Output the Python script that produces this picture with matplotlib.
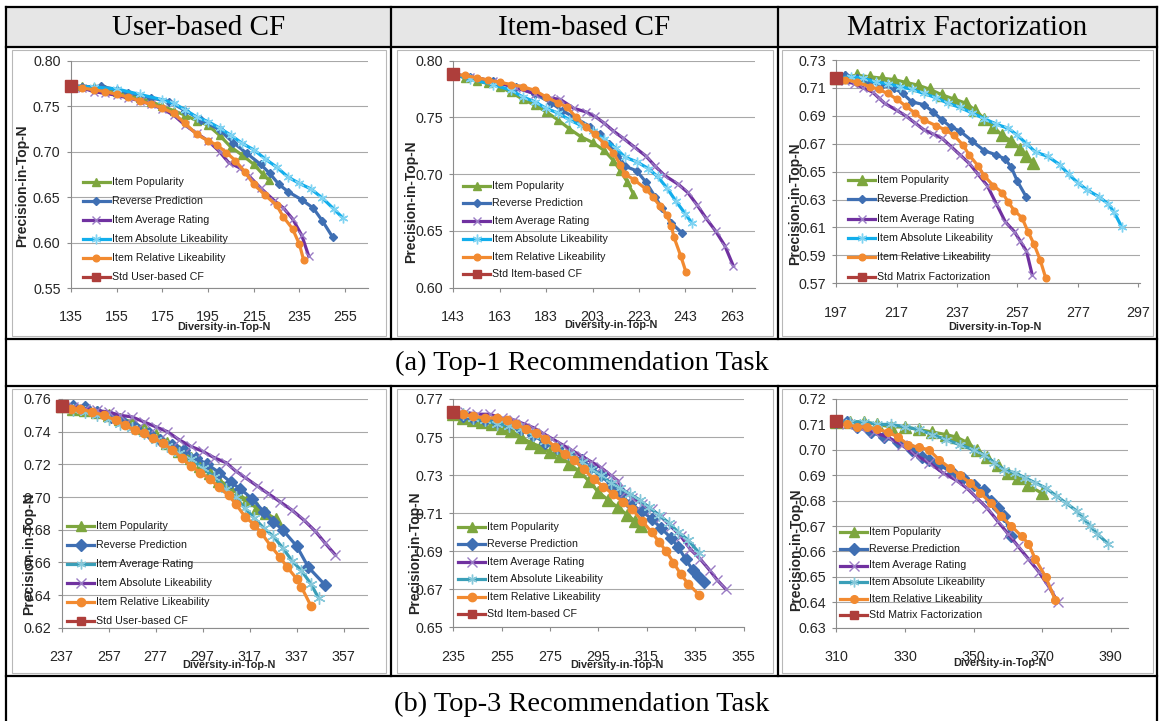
import matplotlib.pyplot as plt
from matplotlib.lines import Line2D
from matplotlib.patches import Rectangle

W, H = 1161, 721

col_titles = ['User-based CF', 'Item-based CF', 'Matrix Factorization']
row_captions = ['(a) Top-1 Recommendation Task', '(b) Top-3 Recommendation Task']
series_names = ['Item Popularity', 'Reverse Prediction', 'Item Average Rating',
                'Item Absolute Likeability', 'Item Relative Likeability']
std_names = ['Std User-based CF', 'Std Item-based CF', 'Std Matrix Factorization']

# ---- Top-1, user-based CF
ub1_pop_x = [135, 140, 145, 150, 155, 160, 165, 170, 175, 180, 185, 190, 195, 200, 205, 210, 215, 219, 221.5]
ub1_pop_y = [0.772, 0.772, 0.771, 0.769, 0.766, 0.763, 0.759, 0.755, 0.750, 0.745, 0.740, 0.734, 0.729, 0.718, 0.705, 0.696, 0.686, 0.675, 0.669]
ub1_rev_x = [135, 140, 148, 155, 160, 170, 178, 185, 192, 200, 206, 212, 218, 222, 226, 230, 236, 241, 245, 249.5]
ub1_rev_y = [0.772, 0.771, 0.772, 0.768, 0.765, 0.759, 0.755, 0.745, 0.735, 0.724, 0.710, 0.698, 0.686, 0.676, 0.664, 0.656, 0.647, 0.638, 0.624, 0.606]
ub1_avg_x = [135, 140, 145, 150, 155, 160, 165, 170, 175, 180, 185, 190, 195, 200, 204, 209, 213, 218, 224, 228, 232, 236, 239]
ub1_avg_y = [0.772, 0.770, 0.766, 0.764, 0.762, 0.759, 0.756, 0.752, 0.747, 0.740, 0.729, 0.720, 0.712, 0.700, 0.688, 0.682, 0.673, 0.660, 0.646, 0.638, 0.626, 0.608, 0.5855]
ub1_abs_x = [135, 145, 155, 165, 175, 180, 185, 190, 195, 200, 205, 210, 215, 220, 225, 230, 235, 240, 245, 250, 254]
ub1_abs_y = [0.772, 0.771, 0.769, 0.763, 0.757, 0.753, 0.746, 0.738, 0.733, 0.726, 0.718, 0.709, 0.702, 0.692, 0.683, 0.672, 0.665, 0.659, 0.649, 0.637, 0.627]
ub1_rel_x = [135, 140, 145, 150, 155, 160, 165, 170, 175, 180, 185, 190, 195, 199, 203, 207, 211, 215, 220, 225, 228, 232, 235, 236.8]
ub1_rel_y = [0.772, 0.770, 0.768, 0.766, 0.763, 0.760, 0.756, 0.752, 0.748, 0.742, 0.731, 0.719, 0.712, 0.707, 0.699, 0.690, 0.678, 0.664, 0.652, 0.641, 0.628, 0.615, 0.598, 0.581]
ub1_std = (135, 0.772)

# ---- Top-1, item-based CF
ib1_pop_x = [143, 148, 153, 158, 163, 168, 173, 178, 183, 188, 193, 198, 203, 208, 212, 215, 218, 220.6]
ib1_pop_y = [0.788, 0.785, 0.782, 0.780, 0.777, 0.772, 0.766, 0.761, 0.755, 0.748, 0.740, 0.733, 0.728, 0.721, 0.712, 0.703, 0.693, 0.6825]
ib1_rev_x = [143, 150, 160, 170, 178, 185, 190, 196, 202, 206, 210, 214, 217, 222, 226, 230, 233, 237, 241.4]
ib1_rev_y = [0.788, 0.786, 0.782, 0.777, 0.771, 0.763, 0.756, 0.749, 0.742, 0.735, 0.727, 0.717, 0.707, 0.703, 0.693, 0.680, 0.670, 0.657, 0.6485]
ib1_avg_x = [143, 150, 160, 170, 178, 185, 189, 195, 200, 204, 208, 212, 216, 221, 226, 230, 234, 240, 244, 248, 252, 256, 260, 263.7]
ib1_avg_y = [0.788, 0.786, 0.782, 0.776, 0.771, 0.767, 0.766, 0.758, 0.755, 0.751, 0.745, 0.738, 0.732, 0.724, 0.716, 0.707, 0.699, 0.691, 0.684, 0.673, 0.661, 0.650, 0.637, 0.619]
ib1_abs_x = [143, 150, 160, 168, 173, 178, 183, 188, 193, 198, 203, 208, 213, 217, 222, 227, 231, 235, 239, 243, 245.8]
ib1_abs_y = [0.788, 0.784, 0.779, 0.774, 0.768, 0.764, 0.758, 0.754, 0.748, 0.743, 0.738, 0.731, 0.723, 0.715, 0.711, 0.705, 0.698, 0.688, 0.676, 0.665, 0.657]
ib1_rel_x = [143, 148, 153, 158, 163, 168, 173, 178, 183, 188, 192, 196, 200, 204, 208, 212, 215, 217, 221, 226, 229, 232, 235, 237, 238, 241, 243.3]
ib1_rel_y = [0.788, 0.787, 0.785, 0.783, 0.781, 0.779, 0.777, 0.774, 0.768, 0.763, 0.759, 0.750, 0.742, 0.735, 0.727, 0.719, 0.708, 0.700, 0.695, 0.687, 0.680, 0.672, 0.664, 0.654, 0.645, 0.628, 0.6135]
ib1_std = (143, 0.788)

# ---- Top-1, matrix factorization
mf1_pop_x = [197, 200, 204, 208, 212, 216, 220, 224, 228, 232, 236, 240, 243, 246, 249, 252, 255, 258, 260, 262.2]
mf1_pop_y = [0.717, 0.718, 0.719, 0.718, 0.717, 0.716, 0.714, 0.712, 0.709, 0.705, 0.702, 0.699, 0.694, 0.688, 0.682, 0.676, 0.672, 0.666, 0.661, 0.6565]
mf1_rev_x = [197, 200, 204, 208, 212, 216, 219, 222, 226, 229, 232, 235, 238, 242, 246, 250, 253, 255, 257, 260]
mf1_rev_y = [0.717, 0.719, 0.717, 0.714, 0.712, 0.710, 0.706, 0.700, 0.698, 0.693, 0.687, 0.682, 0.679, 0.672, 0.665, 0.662, 0.659, 0.653, 0.643, 0.6316]
mf1_avg_x = [197, 200, 203, 206, 209, 211, 213, 217, 220, 223, 226, 229, 232, 235, 238, 241, 244, 247, 250, 253, 256, 258, 260, 261.9]
mf1_avg_y = [0.717, 0.715, 0.713, 0.710, 0.707, 0.703, 0.699, 0.694, 0.690, 0.685, 0.680, 0.677, 0.674, 0.668, 0.662, 0.656, 0.648, 0.640, 0.627, 0.614, 0.607, 0.600, 0.593, 0.576]
mf1_abs_x = [197, 202, 206, 210, 214, 218, 222, 226, 230, 234, 238, 242, 246, 250, 254, 257, 260, 263, 267, 271, 274, 277, 280, 284, 287, 289, 291.5]
mf1_abs_y = [0.717, 0.718, 0.717, 0.714, 0.713, 0.711, 0.709, 0.706, 0.703, 0.699, 0.696, 0.692, 0.688, 0.684, 0.681, 0.676, 0.670, 0.664, 0.661, 0.655, 0.648, 0.642, 0.637, 0.632, 0.627, 0.621, 0.6106]
mf1_rel_x = [197, 200, 204, 208, 211, 214, 217, 220, 223, 226, 230, 233, 236, 239, 241, 244, 246, 249, 252, 254, 256, 258.5, 260.5, 262.5, 264.5, 266.4]
mf1_rel_y = [0.717, 0.716, 0.714, 0.711, 0.709, 0.706, 0.702, 0.697, 0.692, 0.687, 0.683, 0.680, 0.676, 0.669, 0.662, 0.654, 0.647, 0.640, 0.635, 0.628, 0.622, 0.617, 0.607, 0.598, 0.587, 0.5736]
mf1_std = (197, 0.717)

# ---- Top-3, user-based CF
ub3_pop_x = [237, 242, 247, 252, 257, 262, 267, 272, 277, 282, 287, 292, 296, 300, 304, 308, 312, 316, 320, 324, 328.3]
ub3_pop_y = [0.756, 0.754, 0.753, 0.752, 0.750, 0.748, 0.746, 0.742, 0.738, 0.733, 0.728, 0.724, 0.719, 0.715, 0.710, 0.707, 0.702, 0.698, 0.693, 0.690, 0.6865]
ub3_rev_x = [237, 242, 247, 252, 258, 263, 268, 274, 279, 284, 289, 294, 299, 304, 309, 313, 318, 323, 327, 331, 337, 342, 349.2]
ub3_rev_y = [0.756, 0.756, 0.755, 0.752, 0.749, 0.746, 0.743, 0.739, 0.735, 0.732, 0.729, 0.724, 0.720, 0.715, 0.709, 0.705, 0.699, 0.691, 0.685, 0.680, 0.670, 0.657, 0.646]
ub3_avg_x = [237, 242, 247, 252, 257, 262, 267, 272, 277, 282, 287, 292, 297, 302, 307, 311, 315, 319, 323, 327, 331, 335, 339, 343, 346.4]
ub3_avg_y = [0.756, 0.753, 0.752, 0.750, 0.748, 0.745, 0.742, 0.739, 0.735, 0.731, 0.727, 0.723, 0.718, 0.712, 0.705, 0.700, 0.693, 0.687, 0.681, 0.676, 0.669, 0.661, 0.655, 0.647, 0.638]
ub3_abs_x = [237, 242, 247, 252, 257, 262, 267, 272, 277, 282, 287, 292, 297, 302, 307, 311, 315, 320, 325, 330, 335, 340, 345, 349, 353.5]
ub3_abs_y = [0.756, 0.755, 0.754, 0.753, 0.752, 0.750, 0.749, 0.746, 0.743, 0.740, 0.735, 0.731, 0.728, 0.724, 0.721, 0.716, 0.712, 0.707, 0.702, 0.697, 0.692, 0.686, 0.679, 0.672, 0.6645]
ub3_rel_x = [237, 241, 245, 250, 255, 260, 264, 268, 272, 276, 280, 284, 288, 292, 296, 300, 304, 308, 311, 315, 319, 322, 326, 330, 333, 337, 339, 343.2]
ub3_rel_y = [0.756, 0.754, 0.754, 0.752, 0.750, 0.747, 0.744, 0.741, 0.739, 0.736, 0.733, 0.729, 0.724, 0.719, 0.715, 0.711, 0.706, 0.701, 0.696, 0.688, 0.683, 0.678, 0.670, 0.663, 0.657, 0.650, 0.645, 0.633]
ub3_std = (237, 0.756)

# ---- Top-3, item-based CF
ib3_pop_x = [235, 239, 243, 247, 251, 255, 259, 263, 267, 271, 275, 279, 283, 287, 291, 295, 299, 303, 307, 310, 312.7]
ib3_pop_y = [0.762, 0.760, 0.759, 0.758, 0.757, 0.755, 0.753, 0.750, 0.747, 0.745, 0.742, 0.740, 0.736, 0.732, 0.727, 0.721, 0.717, 0.713, 0.709, 0.706, 0.703]
ib3_rev_x = [235, 239, 243, 248, 253, 258, 263, 268, 273, 278, 283, 288, 292, 296, 300, 304, 308, 313, 317, 321, 325, 328, 331, 334, 336, 338.8]
ib3_rev_y = [0.763, 0.761, 0.760, 0.759, 0.758, 0.757, 0.754, 0.751, 0.747, 0.744, 0.741, 0.738, 0.734, 0.730, 0.725, 0.720, 0.715, 0.711, 0.707, 0.702, 0.697, 0.692, 0.686, 0.680, 0.677, 0.674]
ib3_avg_x = [235, 240, 245, 250, 255, 260, 264, 268, 272, 276, 280, 284, 288, 292, 296, 300, 303, 306, 309, 313, 317, 321, 325, 329, 333, 337, 341, 344, 347.7]
ib3_avg_y = [0.763, 0.763, 0.762, 0.762, 0.760, 0.759, 0.757, 0.755, 0.752, 0.749, 0.746, 0.743, 0.740, 0.737, 0.734, 0.730, 0.727, 0.721, 0.718, 0.715, 0.712, 0.708, 0.703, 0.698, 0.691, 0.686, 0.680, 0.675, 0.670]
ib3_abs_x = [235, 239, 243, 248, 253, 258, 263, 268, 273, 278, 283, 288, 292, 296, 300, 304, 308, 312, 316, 320, 324, 328, 332, 336.7]
ib3_abs_y = [0.763, 0.762, 0.760, 0.759, 0.757, 0.756, 0.754, 0.751, 0.748, 0.744, 0.741, 0.737, 0.733, 0.730, 0.726, 0.723, 0.720, 0.717, 0.713, 0.709, 0.705, 0.700, 0.696, 0.689]
ib3_rel_x = [235, 239, 243, 248, 253, 257, 261, 265, 269, 273, 277, 281, 285, 289, 293, 297, 301, 305, 309, 313, 317, 320, 323, 326, 329, 332, 336.7]
ib3_rel_y = [0.763, 0.762, 0.761, 0.760, 0.760, 0.759, 0.757, 0.754, 0.752, 0.749, 0.745, 0.741, 0.738, 0.733, 0.728, 0.724, 0.720, 0.716, 0.712, 0.706, 0.700, 0.695, 0.690, 0.684, 0.678, 0.673, 0.667]
ib3_std = (235, 0.7633)

# ---- Top-3, matrix factorization
mf3_pop_x = [310, 314, 318, 322, 326, 330, 334, 338, 342, 345, 348, 351, 354, 357, 360, 363, 366, 369.8]
mf3_pop_y = [0.711, 0.711, 0.711, 0.710, 0.709, 0.709, 0.708, 0.707, 0.706, 0.705, 0.703, 0.700, 0.697, 0.694, 0.691, 0.689, 0.686, 0.683]
mf3_rev_x = [310, 313, 316, 320, 324, 328, 332, 335, 337, 340, 344, 347, 350, 353, 355, 357, 359, 361]
mf3_rev_y = [0.711, 0.711, 0.709, 0.707, 0.705, 0.703, 0.700, 0.697, 0.696, 0.694, 0.691, 0.689, 0.686, 0.684, 0.680, 0.677, 0.674, 0.666]
mf3_avg_x = [310, 313, 317, 321, 325, 329, 333, 337, 341, 345, 348, 351, 354, 357, 360, 363, 366, 369, 372, 374.6]
mf3_avg_y = [0.711, 0.710, 0.709, 0.707, 0.705, 0.702, 0.698, 0.695, 0.691, 0.688, 0.685, 0.681, 0.677, 0.672, 0.667, 0.662, 0.657, 0.652, 0.646, 0.640]
mf3_abs_x = [310, 314, 318, 322, 326, 330, 334, 338, 342, 346, 350, 353, 356, 359, 362, 365, 368, 371, 374, 377, 380, 382, 384, 386, 389.2]
mf3_abs_y = [0.711, 0.711, 0.711, 0.710, 0.710, 0.709, 0.708, 0.706, 0.704, 0.702, 0.700, 0.698, 0.695, 0.692, 0.691, 0.689, 0.687, 0.685, 0.682, 0.679, 0.676, 0.673, 0.670, 0.667, 0.663]
mf3_rel_x = [313, 316, 319, 322, 325, 328, 331, 334, 337, 340, 343, 346, 349, 352, 355, 358, 361, 364, 366, 368, 371, 373.8]
mf3_rel_y = [0.710, 0.709, 0.709, 0.708, 0.707, 0.705, 0.702, 0.701, 0.700, 0.696, 0.693, 0.690, 0.687, 0.683, 0.679, 0.674, 0.670, 0.666, 0.663, 0.657, 0.650, 0.641]
mf3_std = (310, 0.7113)

# colours
GREEN, BLUE, ORANGE, RED = '#7DA63E', '#3F6FB3', '#F28A30', '#AE3E3B'
PURPLE, CYAN, TEAL = '#7031A0', '#12AEEC', '#3A9FB8'
STAR = (6, 2, 0)

sans = ['Liberation Sans', 'DejaVu Sans']
serif = ['Liberation Serif', 'DejaVu Serif']

fig = plt.figure(figsize=(W / 100, H / 100), dpi=100)
fig.patch.set_facecolor('white')


def px_box(l, t, r, b):
    return [l / W, 1 - b / H, (r - l) / W, (b - t) / H]


def fig_line(xs, ys, **kw):
    fig.add_artist(Line2D([x / W for x in xs], [1 - y / H for y in ys],
                          transform=fig.transFigure, **kw))


# table cells
fig.add_artist(Rectangle((6 / W, 1 - 47 / H), 1151 / W, 40 / H, transform=fig.transFigure,
                         facecolor='#E6E6E6', edgecolor='none', zorder=0))
tbl = dict(color='black', lw=1.6, solid_capstyle='projecting', zorder=5)
fig_line([6, 1157], [7, 7], **tbl)
for y in [47, 339, 386, 676]:
    fig_line([6, 1157], [y, y], **tbl)
fig_line([6, 6], [7, 721], **tbl)
fig_line([1157, 1157], [7, 721], **tbl)
for x in [391, 778]:
    fig_line([x, x], [7, 339], **tbl)
    fig_line([x, x], [386, 676], **tbl)

for txt, cx in zip(col_titles, [198.5, 584.5, 967.5]):
    fig.text(cx / W, 1 - 28 / H, txt, ha='center', va='center', fontsize=21, family=serif)
fig.text(581.5 / W, 1 - 363 / H, row_captions[0], ha='center', va='center', fontsize=20.5, family=serif)
fig.text(581.5 / W, 1 - 704 / H, row_captions[1], ha='center', va='center', fontsize=20.5, family=serif)

# chart frames inside the cells
for l, t, r, b in [(12, 50, 386, 336), (397, 50, 773, 336), (782, 50, 1153, 336),
                   (12, 389, 386, 673), (397, 389, 773, 673), (782, 389, 1153, 673)]:
    fig.add_artist(Rectangle((l / W, 1 - b / H), (r - l) / W, (b - t) / H, transform=fig.transFigure,
                             facecolor='none', edgecolor='#B8B8B8', lw=0.8, zorder=1))

panels = [
    dict(box=(71, 60.7, 368, 288), xlim=(135, 265), xt=range(135, 256, 20), ylim=(0.55, 0.80), ystep=0.05,
         data=[(ub1_pop_x, ub1_pop_y), (ub1_rev_x, ub1_rev_y), (ub1_avg_x, ub1_avg_y), (ub1_abs_x, ub1_abs_y),
               (ub1_rel_x, ub1_rel_y)], std=ub1_std, stdname=std_names[0],
         xlab=(0.515, -0.170), ylab=(-0.165, 0.45), leg=(83, 182, 19.0), top=True, ms=1.0, pop=5.5),
    dict(box=(453.3, 60.7, 755, 287.7), xlim=(143, 273), xt=range(143, 264, 20), ylim=(0.60, 0.80), ystep=0.05,
         data=[(ib1_pop_x, ib1_pop_y), (ib1_rev_x, ib1_rev_y), (ib1_avg_x, ib1_avg_y), (ib1_abs_x, ib1_abs_y),
               (ib1_rel_x, ib1_rel_y)], std=ib1_std, stdname=std_names[1],
         xlab=(0.522, -0.164), ylab=(-0.141, 0.379), leg=(463, 185.7, 17.7), top=True, ms=1.0, pop=5.5),
    dict(box=(836.3, 60, 1139.7, 283.3), xlim=(197, 297.5), xt=range(197, 298, 20), ylim=(0.57, 0.73), ystep=0.02,
         data=[(mf1_pop_x, mf1_pop_y), (mf1_rev_x, mf1_rev_y), (mf1_avg_x, mf1_avg_y), (mf1_abs_x, mf1_abs_y),
               (mf1_rel_x, mf1_rel_y)], std=mf1_std, stdname=std_names[2],
         xlab=(0.522, -0.194), ylab=(-0.137, 0.358), leg=(848, 180, 19.3), top=True, ms=1.0, pop=8),
    dict(box=(61.7, 399, 368.3, 627.7), xlim=(237, 367.5), xt=range(237, 358, 20), ylim=(0.62, 0.76), ystep=0.02,
         data=[(ub3_pop_x, ub3_pop_y), (ub3_rev_x, ub3_rev_y), (ub3_avg_x, ub3_avg_y), (ub3_abs_x, ub3_abs_y),
               (ub3_rel_x, ub3_rel_y)], std=ub3_std, stdname=std_names[0],
         xlab=(0.546, -0.163), ylab=(-0.106, 0.322), leg=(67, 525.7, 19.0), top=False, ms=1.25, pop=8,
         swap=True),
    dict(box=(453.3, 399, 744.3, 627.3), xlim=(235, 355.3), xt=range(235, 356, 20), ylim=(0.65, 0.77), ystep=0.02,
         data=[(ib3_pop_x, ib3_pop_y), (ib3_rev_x, ib3_rev_y), (ib3_avg_x, ib3_avg_y), (ib3_abs_x, ib3_abs_y),
               (ib3_rel_x, ib3_rel_y)], std=ib3_std, stdname=std_names[1],
         xlab=(0.561, -0.165), ylab=(-0.132, 0.328), leg=(458, 526.7, 17.5), top=False, ms=1.25, pop=9),
    dict(box=(836.3, 399, 1128, 627.7), xlim=(310, 395), xt=range(310, 391, 20), ylim=(0.63, 0.72), ystep=0.01,
         data=[(mf3_pop_x, mf3_pop_y), (mf3_rev_x, mf3_rev_y), (mf3_avg_x, mf3_avg_y), (mf3_abs_x, mf3_abs_y),
               (mf3_rel_x, mf3_rel_y)], std=mf3_std, stdname=std_names[2],
         xlab=(0.56, -0.156), ylab=(-0.137, 0.34), leg=(840, 532.3, 16.6), top=False, ms=1.15, pop=8),
]

for p in panels:
    k = p['ms']
    abs_col = CYAN if p['top'] else TEAL
    styles = [
        dict(color=GREEN, marker='^', ms=p['pop'], mec=GREEN, mfc=GREEN),
        dict(color=BLUE, marker='D', ms=3.8 * k * (1.35 if not p['top'] else 1), mec=BLUE, mfc=BLUE),
        dict(color=PURPLE, marker='x', ms=6 * k, mec='#9A7CC4', mew=1.0),
        dict(color=abs_col, marker=STAR, ms=7 * k, mec='#7FD3F2' if p['top'] else '#86C8DA', mew=1.0),
        dict(color=ORANGE, marker='o', ms=4.8 * k, mec=ORANGE, mfc=ORANGE),
    ]
    if p.get('swap'):
        # in this chart the average-rating curve is teal and the absolute one purple
        styles[2], styles[3] = dict(styles[3]), dict(styles[2])

    l, t, r, b = p['box']
    ax = fig.add_axes(px_box(l, t, r, b))
    for (xs, ys), st in zip(p['data'], styles):
        ax.plot(xs, ys, lw=2.3, clip_on=False, zorder=3, **st)
    ax.plot([p['std'][0]], [p['std'][1]], 's', color=RED, ms=8 * min(k, 1.0), clip_on=False, zorder=6)

    ax.set_xlim(*p['xlim'])
    ax.set_ylim(*p['ylim'])
    ax.set_xticks(list(p['xt']))
    n = int(round((p['ylim'][1] - p['ylim'][0]) / p['ystep']))
    yt = [round(p['ylim'][0] + i * p['ystep'], 2) for i in range(n + 1)]
    ax.set_yticks(yt)
    ax.set_yticklabels(['%.2f' % v for v in yt])
    ax.grid(axis='y', color='#A8A8A8', lw=0.8)
    ax.set_axisbelow(True)
    for s in ['top', 'right']:
        ax.spines[s].set_visible(False)
    for s in ['left', 'bottom']:
        ax.spines[s].set_color('#8C8C8C')
        ax.spines[s].set_linewidth(0.8)
    ax.tick_params(axis='both', direction='out', length=3, width=0.8, color='#8C8C8C',
                   labelsize=10.3, labelcolor='#262626')
    ax.tick_params(axis='x', pad=13)
    ax.tick_params(axis='y', pad=4.5)
    for lab in ax.get_xticklabels() + ax.get_yticklabels():
        lab.set_family(sans)

    ax.set_xlabel('Diversity-in-Top-N', fontsize=7.8, fontweight='bold', family=sans, color='#262626')
    ax.xaxis.label.set_va('center')
    ax.xaxis.set_label_coords(*p['xlab'])
    ax.set_ylabel('Precision-in-Top-N', fontsize=10, fontweight='bold', family=sans, color='#262626')
    ax.yaxis.label.set_va('center')
    ax.yaxis.set_label_coords(*p['ylab'])

    # legend rows drawn in pixel positions
    hx, hy, dy = p['leg']
    names = series_names + [p['stdname']]
    leg_styles = styles + [dict(color=RED, marker='s', ms=6, mec=RED, mfc=RED)]
    for i, (name, st) in enumerate(zip(names, leg_styles)):
        y = hy + i * dy
        fig_line([hx, hx + 27], [y, y], lw=2.3, zorder=7, color=st['color'])
        mst = {kk: vv for kk, vv in st.items() if kk != 'color'}
        mst['ms'] = min(mst['ms'], 7)
        fig_line([hx + 13.5], [y], ls='none', zorder=8, color=st['color'], **mst)
        fig.text((hx + 29) / W, 1 - y / H, name, ha='left', va='center', fontsize=7.7,
                 family=sans, color='#1A1A1A', zorder=8)

fig.savefig('out.png', dpi=100)
